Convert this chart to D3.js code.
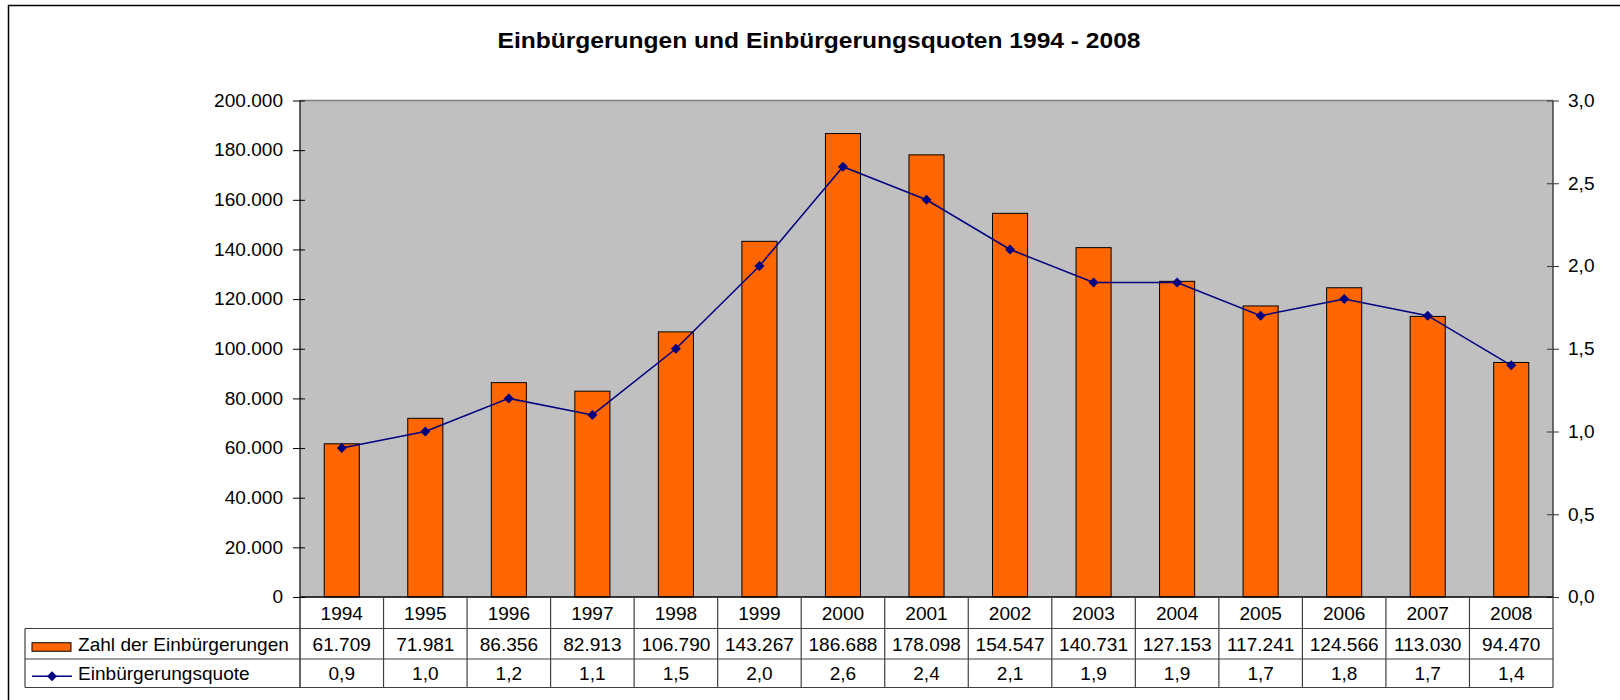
<!DOCTYPE html>
<html>
<head>
<meta charset="utf-8">
<script src="https://cdn.jsdelivr.net/npm/d3@7"></script>
<style>
  html, body { margin: 0; padding: 0; background: #fff; }
  svg { display: block; font-family: "Liberation Sans", Arial, sans-serif; }
</style>
</head>
<body>
<svg id="chart" width="1620" height="700"></svg>
<script>
// ---- data ----
const years = ["1994","1995","1996","1997","1998","1999","2000","2001","2002","2003","2004","2005","2006","2007","2008"];
const counts = [61709, 71981, 86356, 82913, 106790, 143267, 186688, 178098, 154547, 140731, 127153, 117241, 124566, 113030, 94470];
const rates = [0.9, 1.0, 1.2, 1.1, 1.5, 2.0, 2.6, 2.4, 2.1, 1.9, 1.9, 1.7, 1.8, 1.7, 1.4];
const leftTicks = [0, 20000, 40000, 60000, 80000, 100000, 120000, 140000, 160000, 180000, 200000];
const rightTicks = [0, 0.5, 1.0, 1.5, 2.0, 2.5, 3.0];
const seriesNames = ["Zahl der Einbürgerungen", "Einbürgerungsquote"];
const title = "Einbürgerungen und Einbürgerungsquoten 1994 - 2008";

// ---- layout ----
const plot = { left: 300, right: 1553, top: 100.5, bottom: 597 };
const rowY = [597, 628.5, 659, 687.5];
const tableLeft = 25;
const FS = 18, SX = 1.06;

const de = d3.formatLocale({ decimal: ",", thousands: ".", grouping: [3], currency: ["", " €"] });
const fmtInt = de.format(",.0f");
const fmt1 = de.format(",.1f");

const svg = d3.select("#chart");

// outer frame
svg.append("rect").attr("x", 8.5).attr("y", 5.5).attr("width", 1700).attr("height", 800)
  .attr("fill", "none").attr("stroke", "#000").attr("stroke-width", 1.5);

// title
svg.append("text").attr("x", 819).attr("y", 48).attr("text-anchor", "middle")
  .attr("font-weight", "bold").attr("font-size", 22)
  .attr("textLength", 643).attr("lengthAdjust", "spacingAndGlyphs")
  .text(title);

// scales
const x = d3.scaleBand().domain(years).range([plot.left, plot.right]).padding(0);
const yL = d3.scaleLinear().domain([0, 200000]).range([plot.bottom, plot.top]);
const yR = d3.scaleLinear().domain([0, 3]).range([plot.bottom, plot.top]);
const bw = x.bandwidth() * 0.42;

// plot background
svg.append("rect").attr("x", plot.left).attr("y", plot.top)
  .attr("width", plot.right - plot.left).attr("height", plot.bottom - plot.top)
  .attr("fill", "#C0C0C0");
svg.append("line").attr("x1", plot.left).attr("x2", plot.right).attr("y1", plot.top).attr("y2", plot.top)
  .attr("stroke", "#808080").attr("stroke-width", 1.5);

// bars
svg.append("g").selectAll("rect").data(years).join("rect")
  .attr("x", (d) => x(d) + (x.bandwidth() - bw) / 2)
  .attr("y", (d, i) => yL(counts[i]))
  .attr("width", bw)
  .attr("height", (d, i) => yL(0) - yL(counts[i]))
  .attr("fill", "#FF6600").attr("stroke", "#000").attr("stroke-width", 1);

// line
const line = d3.line().x((d, i) => x(years[i]) + x.bandwidth() / 2).y((d) => yR(d));
svg.append("path").datum(rates).attr("d", line)
  .attr("fill", "none").attr("stroke", "#000080").attr("stroke-width", 1.5);
const diamond = d3.symbol().type(d3.symbolSquare).size(50);
svg.append("g").selectAll("path").data(rates).join("path")
  .attr("d", diamond)
  .attr("transform", (d, i) => `translate(${x(years[i]) + x.bandwidth() / 2},${yR(d)}) rotate(45)`)
  .attr("fill", "#000080");

// left axis
const gL = svg.append("g").attr("transform", `translate(${plot.left},0)`)
  .call(d3.axisLeft(yL).tickValues(leftTicks).tickFormat(fmtInt).tickSizeOuter(0).tickSizeInner(6).tickPadding(10));
gL.select(".domain").remove();
gL.selectAll(".tick line").attr("x1", -7).attr("x2", 5).attr("stroke", "#000");
gL.selectAll(".tick text").attr("font-size", FS).attr("font-family", "Liberation Sans, Arial, sans-serif")
  .attr("fill", "#000").attr("transform", `scale(${SX},1)`).attr("x", -17 / SX);

// right axis
const gR = svg.append("g").attr("transform", `translate(${plot.right},0)`)
  .call(d3.axisRight(yR).tickValues(rightTicks).tickFormat(fmt1).tickSizeOuter(0).tickSizeInner(6).tickPadding(10));
gR.select(".domain").remove();
gR.selectAll(".tick line").attr("x1", -6).attr("x2", 6).attr("stroke", "#333");
gR.selectAll(".tick text").attr("font-size", FS).attr("font-family", "Liberation Sans, Arial, sans-serif")
  .attr("fill", "#000").attr("transform", `scale(${SX},1)`).attr("x", 15 / SX);

// axis lines
svg.append("line").attr("x1", plot.right).attr("x2", plot.right).attr("y1", plot.top).attr("y2", plot.bottom)
  .attr("stroke", "#404040").attr("stroke-width", 1.5);
svg.append("line").attr("x1", plot.left).attr("x2", plot.left).attr("y1", plot.top).attr("y2", rowY[3])
  .attr("stroke", "#000").attr("stroke-width", 1.2);

// ---- data table ----
const tbl = svg.append("g");
// horizontal lines
tbl.append("line").attr("x1", plot.left).attr("x2", plot.right).attr("y1", rowY[0]).attr("y2", rowY[0])
  .attr("stroke", "#000").attr("stroke-width", 1.5);
[rowY[1], rowY[2], rowY[3]].forEach((yy) => {
  tbl.append("line").attr("x1", tableLeft).attr("x2", plot.right).attr("y1", yy).attr("y2", yy)
    .attr("stroke", "#404040").attr("stroke-width", 1.2);
});
tbl.append("line").attr("x1", tableLeft).attr("x2", tableLeft).attr("y1", rowY[1]).attr("y2", rowY[3])
  .attr("stroke", "#404040").attr("stroke-width", 1.2);
// vertical lines between columns
const bounds = years.map((d) => x(d)).concat([plot.right]);
tbl.selectAll("line.v").data(bounds.slice(1)).join("line").attr("class", "v")
  .attr("x1", (d) => d).attr("x2", (d) => d).attr("y1", rowY[0]).attr("y2", rowY[3])
  .attr("stroke", "#404040").attr("stroke-width", 1.2);

function cellText(g, txt, cx, cy, anchor) {
  g.append("text").attr("transform", `translate(${cx},${cy}) scale(${SX},1)`)
    .attr("text-anchor", anchor || "middle").attr("dy", "0.36em")
    .attr("font-size", FS).attr("fill", "#000").text(txt);
}
const rowsText = [years, counts.map(fmtInt), rates.map(fmt1)];
rowsText.forEach((vals, r) => {
  const cy = (rowY[r] + rowY[r + 1]) / 2 + 0.5;
  vals.forEach((v, i) => cellText(tbl, v, x(years[i]) + x.bandwidth() / 2, cy));
});

// legend keys in table
const r1 = (rowY[1] + rowY[2]) / 2, r2 = (rowY[2] + rowY[3]) / 2;
tbl.append("rect").attr("x", 32).attr("y", r1 - 1).attr("width", 39).attr("height", 8.5)
  .attr("fill", "#FF6600").attr("stroke", "#000").attr("stroke-width", 1);
cellText(tbl, seriesNames[0], 78, r1 + 0.5, "start");
tbl.append("line").attr("x1", 32).attr("x2", 72).attr("y1", r2 + 3).attr("y2", r2 + 3)
  .attr("stroke", "#000080").attr("stroke-width", 1.5);
tbl.append("path").attr("d", diamond).attr("transform", `translate(52,${r2 + 3}) rotate(45)`).attr("fill", "#000080");
cellText(tbl, seriesNames[1], 78, r2 + 0.5, "start");
</script>
</body>
</html>
